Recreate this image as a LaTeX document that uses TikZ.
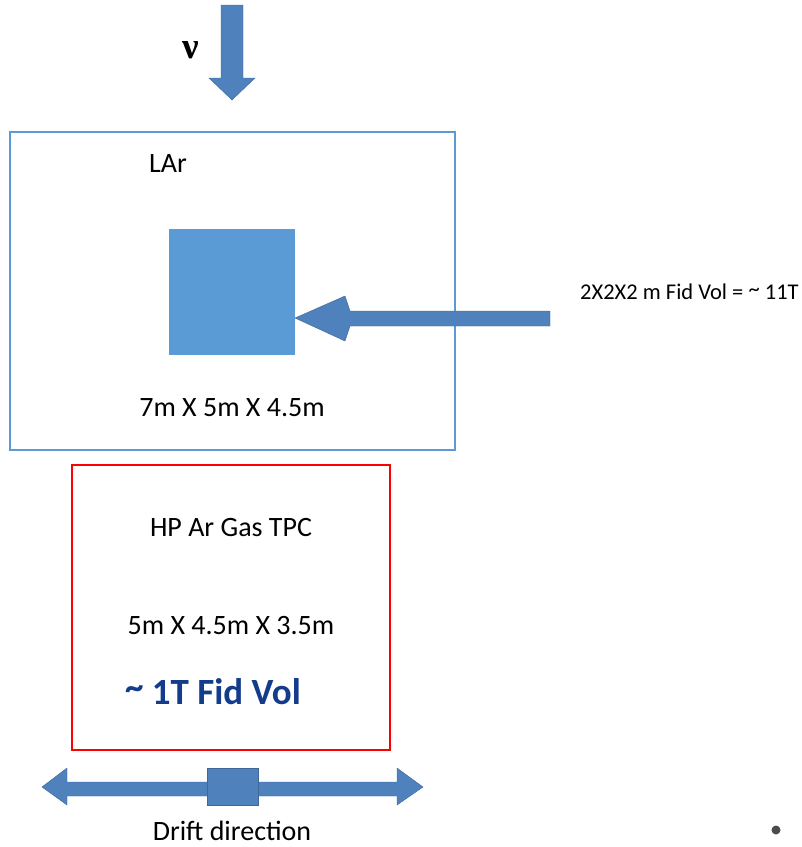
\documentclass[tikz,border=0pt]{standalone}
\usepackage{fontspec}
\setmainfont{Carlito}
\newfontfamily\grkfont{Liberation Serif}
\definecolor{boxblue}{HTML}{5B9BD5}
\definecolor{arrowblue}{HTML}{4F81BD}
\definecolor{fidblue}{HTML}{133C8C}
\tikzset{
    blockarrow/.style={fill=arrowblue, draw=arrowblue!80!black, line width=0.4pt},
    lbl/.style={font=\fontsize{28}{32}\selectfont, inner sep=0pt}
}
\begin{document}
\begin{tikzpicture}[x=1pt, y=-1pt]
        \useasboundingbox (0,0) rectangle (802,847);
        %neutrino beam
        \fill[blockarrow] (221,5) -- (243,5) -- (243,78) -- (255,78) -- (232,100) -- (209,78) -- (221,78) -- cycle;
        \node[lbl, font=\grkfont\bfseries\fontsize{37}{40}\selectfont] (nu) at (191,50) {ν};
        %liquid argon volume
        \draw[boxblue, line width=1.5pt] (10,132) rectangle (455,450);
        \node[lbl] (lar) at (168,164) {LAr};
        \fill[boxblue] (169,229) rectangle (295,355);
        \coordinate (fid) at (295,318);
        \node[lbl] (lardim) at (232,408) {7m X 5m X 4.5m};
        \node[lbl, anchor=west, font=\fontsize{22.5}{26}\selectfont] (fidtext) at (580,292) {2X2X2 m Fid Vol = \raisebox{0.3ex}{\char`\~} 11T};
        \fill[blockarrow] (550,311) -- (350,311) -- (345,296) -- (fid) -- (345,341) -- (350,326) -- (550,326) -- cycle;
        %gas tpc
        \draw[red, line width=2.5pt] (72,465) rectangle (390,750);
        \node[lbl] (tpc) at (231,528) {HP Ar Gas TPC};
        \node[lbl] (tpcdim) at (231,626) {5m X 4.5m X 3.5m};
        \node[lbl, text=fidblue, font=\bfseries\fontsize{37}{42}\selectfont] (tpcfid) at (213,692) {\raisebox{0.3ex}{\char`\~} 1T Fid Vol};
        %drift
        \fill[blockarrow] (42,787) -- (67,768) -- (67,782) -- (397,782) -- (397,768) -- (423,787) -- (397,805) -- (397,796) -- (67,796) -- (67,805) -- cycle;
        \fill[blockarrow] (207,768) rectangle (258,805);
        \node[lbl, anchor=base] (drift) at (232,840) {Drift direction};
        \fill[black!70] (776,830) circle (4.5);
    \end{tikzpicture}
\end{document}
